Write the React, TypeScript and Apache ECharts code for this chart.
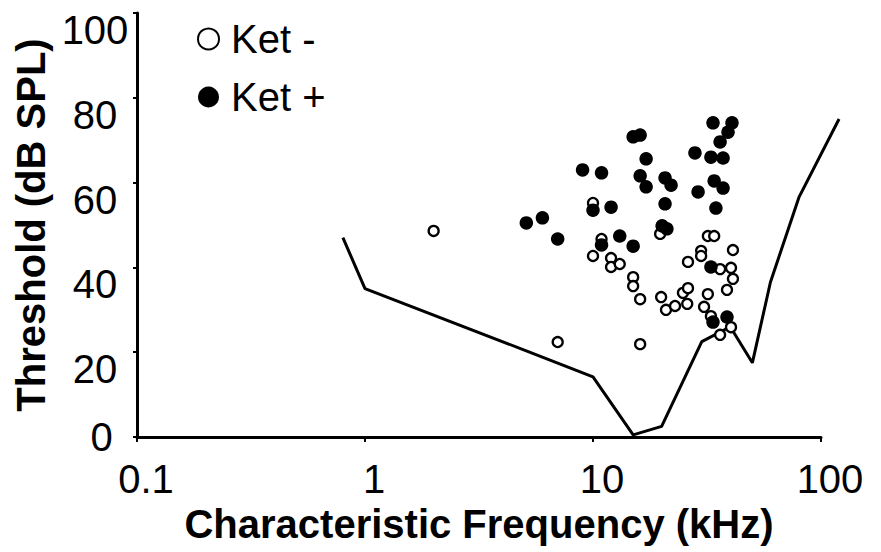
import React, { useEffect, useRef } from "react";
import * as echarts from "echarts";

// Ket − (open circles): characteristic frequency (kHz) and threshold (dB SPL)
const ketMinusFreq = [2.0, 10.0, 10.9, 10.0, 12.0, 12.0, 13.1, 15.0, 15.0, 16.1, 19.7, 19.9, 20.9, 22.9, 24.8, 26.1, 25.9, 26.1, 29.8, 29.8, 31.9, 34.0, 41.1, 36.1, 40.3, 41.1, 38.7, 31.9, 30.7, 32.9, 40.3, 36.1, 7.0, 16.1];
const ketMinusThr = [48.6, 55.2, 46.7, 42.7, 42.2, 40.1, 40.8, 37.7, 35.6, 32.5, 47.9, 33.0, 30.0, 30.9, 34.0, 35.1, 31.4, 41.3, 43.9, 42.7, 47.4, 47.4, 44.1, 39.6, 39.9, 37.3, 34.7, 33.7, 30.7, 28.5, 25.9, 24.1, 22.4, 21.9];

// Ket + (filled circles)
const ketPlusFreq = [33.6, 40.7, 39.1, 36.1, 15.0, 16.1, 17.1, 28.0, 32.9, 37.2, 9.0, 10.9, 16.1, 17.1, 20.7, 22.0, 34.0, 37.2, 28.9, 20.7, 34.6, 10.0, 12.0, 6.0, 5.1, 7.0, 10.9, 13.1, 15.0, 20.1, 21.1, 32.9, 38.7, 33.6];
const ketPlusThr = [74.1, 74.1, 71.9, 69.6, 70.8, 71.2, 65.6, 67.0, 66.0, 65.8, 63.0, 62.3, 61.6, 59.0, 61.1, 59.4, 60.4, 58.7, 57.8, 55.0, 54.0, 53.5, 54.2, 51.7, 50.5, 46.7, 45.3, 47.4, 45.0, 49.8, 49.1, 40.1, 28.3, 27.1];

// Audiogram threshold curve (runs past 100 kHz at its upper end)
const curveFreq = [0.8, 1.0, 5, 10, 15, 20, 30, 40, 50, 60, 80, 120];
const curveThr = [47, 35, 20.5, 14.2, 0.5, 2.5, 22.5, 26, 17.5, 36.5, 56.5, 75];

const xTicks = [0.1, 1, 10, 100];
const yTicks = [0, 20, 40, 60, 80, 100];
// wider hidden frequency range used only for the curve, so it can extend past the axis end
const curveRangeMax = 125;

const FONT = "Liberation Sans, Arial, sans-serif";

const GRID_LEFT = 137;
const GRID_TOP = 13;
const GRID_BOTTOM = 115;
const PLOT_W = 881 - GRID_LEFT - 60;

function zip(xs: number[], ys: number[]) {
  return xs.map((x, i) => [x, ys[i]]);
}

export default function App() {
  const ref = useRef<HTMLDivElement>(null);

  useEffect(() => {
    if (!ref.current) return;
    const chart = echarts.init(ref.current, undefined, { renderer: "svg" });

    const decades = Math.log10(xTicks[xTicks.length - 1] / xTicks[0]);
    const extDecades = Math.log10(curveRangeMax / xTicks[0]);
    const curveGridRight = 881 - GRID_LEFT - (PLOT_W * extDecades) / decades;

    chart.setOption({
      animation: false,
      backgroundColor: "#ffffff",
      textStyle: { fontFamily: FONT },
      grid: [
        { left: GRID_LEFT, right: 60, top: GRID_TOP, bottom: GRID_BOTTOM },
        { left: GRID_LEFT, right: curveGridRight, top: GRID_TOP, bottom: GRID_BOTTOM },
      ],
      legend: {
        orient: "vertical",
        left: 197,
        top: 19,
        padding: 0,
        itemGap: 18,
        itemWidth: 21,
        itemHeight: 21,
        icon: "circle",
        data: ["Ket -", "Ket +"],
        textStyle: {
          fontSize: 40,
          lineHeight: 40,
          color: "#000",
          fontFamily: FONT,
          padding: [0, 0, 0, 7],
        },
      },
      xAxis: [
        {
          type: "log",
          gridIndex: 0,
          logBase: 10,
          min: xTicks[0],
          max: xTicks[xTicks.length - 1],
          name: "Characteristic Frequency (kHz)",
          nameLocation: "middle",
          nameGap: 64,
          nameTextStyle: { fontSize: 40, fontWeight: "bold", color: "#000", fontFamily: FONT },
          axisLine: { lineStyle: { color: "#000", width: 3 } },
          axisTick: { show: true, inside: false, length: 5, lineStyle: { color: "#000", width: 2 } },
          minorTick: { show: false },
          splitLine: { show: false },
          axisLabel: {
            margin: 22,
            color: "#000",
            fontSize: 40,
            fontFamily: FONT,
            showMinLabel: true,
            showMaxLabel: true,
            formatter: (v: number) => `{t|${v < 1 ? v.toFixed(1) : String(Math.round(v))}}`,
            rich: { t: { fontSize: 40, fontFamily: FONT, color: "#000", padding: [0, 0, 0, 18] } },
          },
        },
        {
          type: "log",
          gridIndex: 1,
          logBase: 10,
          min: xTicks[0],
          max: curveRangeMax,
          show: false,
        },
      ],
      yAxis: [
        {
          type: "value",
          gridIndex: 0,
          min: yTicks[0],
          max: yTicks[yTicks.length - 1],
          interval: 20,
          name: "Threshold (dB SPL)",
          nameLocation: "middle",
          nameGap: 82,
          nameTextStyle: { fontSize: 40, fontWeight: "bold", color: "#000", fontFamily: FONT },
          axisLine: { show: true, lineStyle: { color: "#000", width: 3 } },
          axisTick: { show: true, inside: false, length: 4, lineStyle: { color: "#000", width: 2 } },
          splitLine: { show: false },
          axisLabel: {
            margin: 42,
            align: "center",
            verticalAlign: "middle",
            color: "#000",
            fontSize: 40,
            fontFamily: FONT,
            formatter: (v: number) => (v === 0 ? `{z|0}` : `{n|${v}}`),
            rich: {
              n: { fontSize: 40, fontFamily: FONT, color: "#000", padding: [34, 0, 0, 0] },
              z: { fontSize: 40, fontFamily: FONT, color: "#000", padding: [0, 0, 0, 13] },
            },
          },
        },
        {
          type: "value",
          gridIndex: 1,
          min: yTicks[0],
          max: yTicks[yTicks.length - 1],
          show: false,
        },
      ],
      series: [
        {
          name: "curve",
          type: "line",
          xAxisIndex: 1,
          yAxisIndex: 1,
          data: zip(curveFreq, curveThr),
          showSymbol: false,
          symbol: "none",
          clip: false,
          lineStyle: { color: "#000", width: 3 },
          z: 1,
        },
        {
          name: "Ket -",
          type: "scatter",
          xAxisIndex: 0,
          yAxisIndex: 0,
          data: zip(ketMinusFreq, ketMinusThr),
          symbol: "circle",
          symbolSize: 10,
          itemStyle: { color: "#fff", borderColor: "#000", borderWidth: 2.3, opacity: 1 },
          z: 2,
        },
        {
          name: "Ket +",
          type: "scatter",
          xAxisIndex: 0,
          yAxisIndex: 0,
          data: zip(ketPlusFreq, ketPlusThr),
          symbol: "circle",
          symbolSize: 13.5,
          itemStyle: { color: "#000", borderColor: "#000", borderWidth: 0, opacity: 1 },
          z: 3,
        },
      ],
    });
    return () => chart.dispose();
  }, []);

  return (
    <div
      ref={ref}
      style={{ position: "fixed", left: 0, top: 0, width: 881, height: 552, background: "#fff" }}
    />
  );
}
